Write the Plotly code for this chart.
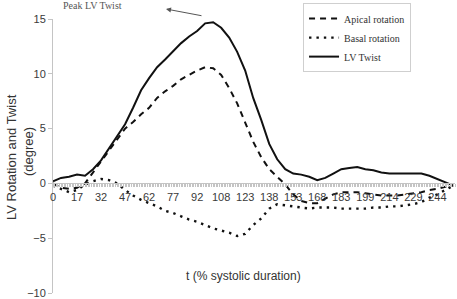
import plotly.graph_objects as go

# x positions (category index along the systolic time axis)
t_index = list(range(0, 255, 5))

lv_twist = [0.2, 0.5, 0.6, 0.8, 0.7, 1.3, 2.1, 3.2, 4.3, 5.4,
            6.9, 8.5, 9.6, 10.6, 11.3, 12.1, 12.8, 13.4, 13.9, 14.6,
            14.7, 14.2, 13.3, 12.0, 10.3, 7.8, 5.8, 3.6, 2.2, 1.3,
            0.9, 0.8, 0.6, 0.3, 0.5, 0.9, 1.3, 1.4, 1.5, 1.3,
            1.2, 1.0, 0.9, 0.9, 0.9, 0.9, 0.9, 0.7, 0.4, 0.1,
            -0.2]

apical = [0.0, -0.4, -0.5, -0.4, 0.0, 1.0, 2.0, 3.0, 4.1, 5.0,
          5.6, 6.3, 6.9, 7.8, 8.4, 8.9, 9.5, 9.9, 10.3, 10.6,
          10.5, 9.9, 8.7, 7.3, 5.6, 3.8, 2.4, 1.3, 0.6, -0.1,
          -1.0, -1.6, -1.8, -1.8, -1.4, -1.0, -0.8, -0.8, -0.8, -0.9,
          -1.0, -1.1, -1.1, -1.1, -1.0, -0.9, -0.8, -0.6, -0.5, -0.3,
          -0.2]

basal = [-0.2, -0.5, -0.8, -0.6, -0.1, 0.2, 0.4, 0.3, 0.0, -0.6,
         -1.1, -1.5, -1.8, -2.1, -2.5, -2.7, -3.0, -3.3, -3.5, -3.8,
         -4.1, -4.3, -4.5, -4.8, -4.6, -3.8, -3.2, -2.3, -1.9, -2.0,
         -2.1, -2.2, -2.3, -2.2, -2.2, -2.2, -2.3, -2.3, -2.3, -2.3,
         -2.2, -2.2, -2.1, -2.1, -2.0, -1.9, -1.7, -1.3, -1.0, -0.6,
         -0.2]

tick_pos = list(range(0, 241, 15))
tick_labels = ["0", "17", "32", "47", "62", "77", "92", "108", "123", "138",
               "153", "168", "183", "199", "214", "229", "244"]

fig = go.Figure()
fig.add_trace(go.Scatter(x=t_index, y=apical, mode="lines", name="Apical rotation",
                         legendgroup="a",
                         line=dict(color="#111111", width=2, dash="6px,5px")))
fig.add_trace(go.Scatter(x=t_index, y=basal, mode="lines", name="Basal rotation",
                         legendgroup="b",
                         line=dict(color="#111111", width=2.4, dash="2.4px,5px")))
fig.add_trace(go.Scatter(x=t_index, y=lv_twist, mode="lines", name="LV Twist",
                         legendgroup="c",
                         line=dict(color="#111111", width=2)))

axis_gray = "#c4c4c4"
tick_font = dict(family="Liberation Sans, Arial", size=11, color="#3a3a3a")

fig.update_layout(
    width=457, height=299,
    margin=dict(l=53, r=2, t=19, b=6, autoexpand=False),
    paper_bgcolor="white", plot_bgcolor="white",
    showlegend=True,
    legend=dict(x=0.622, y=1.058, xanchor="left", yanchor="top",
                bgcolor="white", bordercolor="#cfcfcf", borderwidth=1,
                font=dict(family="Liberation Serif, Times New Roman", size=10, color="#333333"),
                tracegroupgap=0, itemwidth=30),
    xaxis=dict(range=[0, 251], anchor="free", position=0.4,
               tickmode="array", tickvals=tick_pos, ticktext=tick_labels,
               showgrid=False, zeroline=False,
               showline=True, linecolor=axis_gray, linewidth=1,
               ticks="outside", ticklen=3, tickcolor=axis_gray,
               minor=dict(tickmode="linear", tick0=0, dtick=1, ticks="outside",
                          ticklen=3, tickcolor=axis_gray, showgrid=False),
               tickfont=tick_font),
    yaxis=dict(range=[-10, 15], tickvals=[-10, -5, 0, 5, 10, 15],
               showgrid=False, zeroline=False,
               showline=True, linecolor=axis_gray, linewidth=1,
               ticks="outside", ticklen=4, tickcolor=axis_gray,
               tickfont=tick_font),
    annotations=[
        dict(text="LV Rotation and Twist", xref="paper", yref="paper",
             x=(12 - 53) / 402, y=(293 - 157) / 274, showarrow=False, textangle=-90,
             font=dict(family="Liberation Sans, Arial", size=13, color="#333333"),
             xanchor="center", yanchor="middle"),
        dict(text="(degree)", xref="paper", yref="paper",
             x=(28 - 53) / 402, y=(293 - 152) / 274, showarrow=False, textangle=-90,
             font=dict(family="Liberation Sans, Arial", size=13, color="#333333"),
             xanchor="center", yanchor="middle"),
        dict(text="t (% systolic duration)", xref="paper", yref="paper",
             x=(243 - 53) / 402, y=(293 - 276) / 274, showarrow=False,
             font=dict(family="Liberation Sans, Arial", size=12, color="#333333"),
             xanchor="center", yanchor="middle"),
        dict(text="Peak LV Twist", xref="paper", yref="paper",
             x=(92 - 53) / 402, y=(293 - 6) / 274, showarrow=False,
             font=dict(family="Liberation Serif, Times New Roman", size=10, color="#555555"),
             xanchor="center", yanchor="middle"),
        dict(text="", xref="paper", yref="paper",
             x=(166 - 53) / 402, y=(293 - 9) / 274, ax=37, ay=7,
             showarrow=True, arrowhead=2, arrowsize=1, arrowwidth=1,
             arrowcolor="#555555", standoff=0),
    ],
)

fig.write_html("out.html",
               config={"displayModeBar": False},
               post_script="document.body.style.margin='0px';document.body.style.overflow='hidden';")
